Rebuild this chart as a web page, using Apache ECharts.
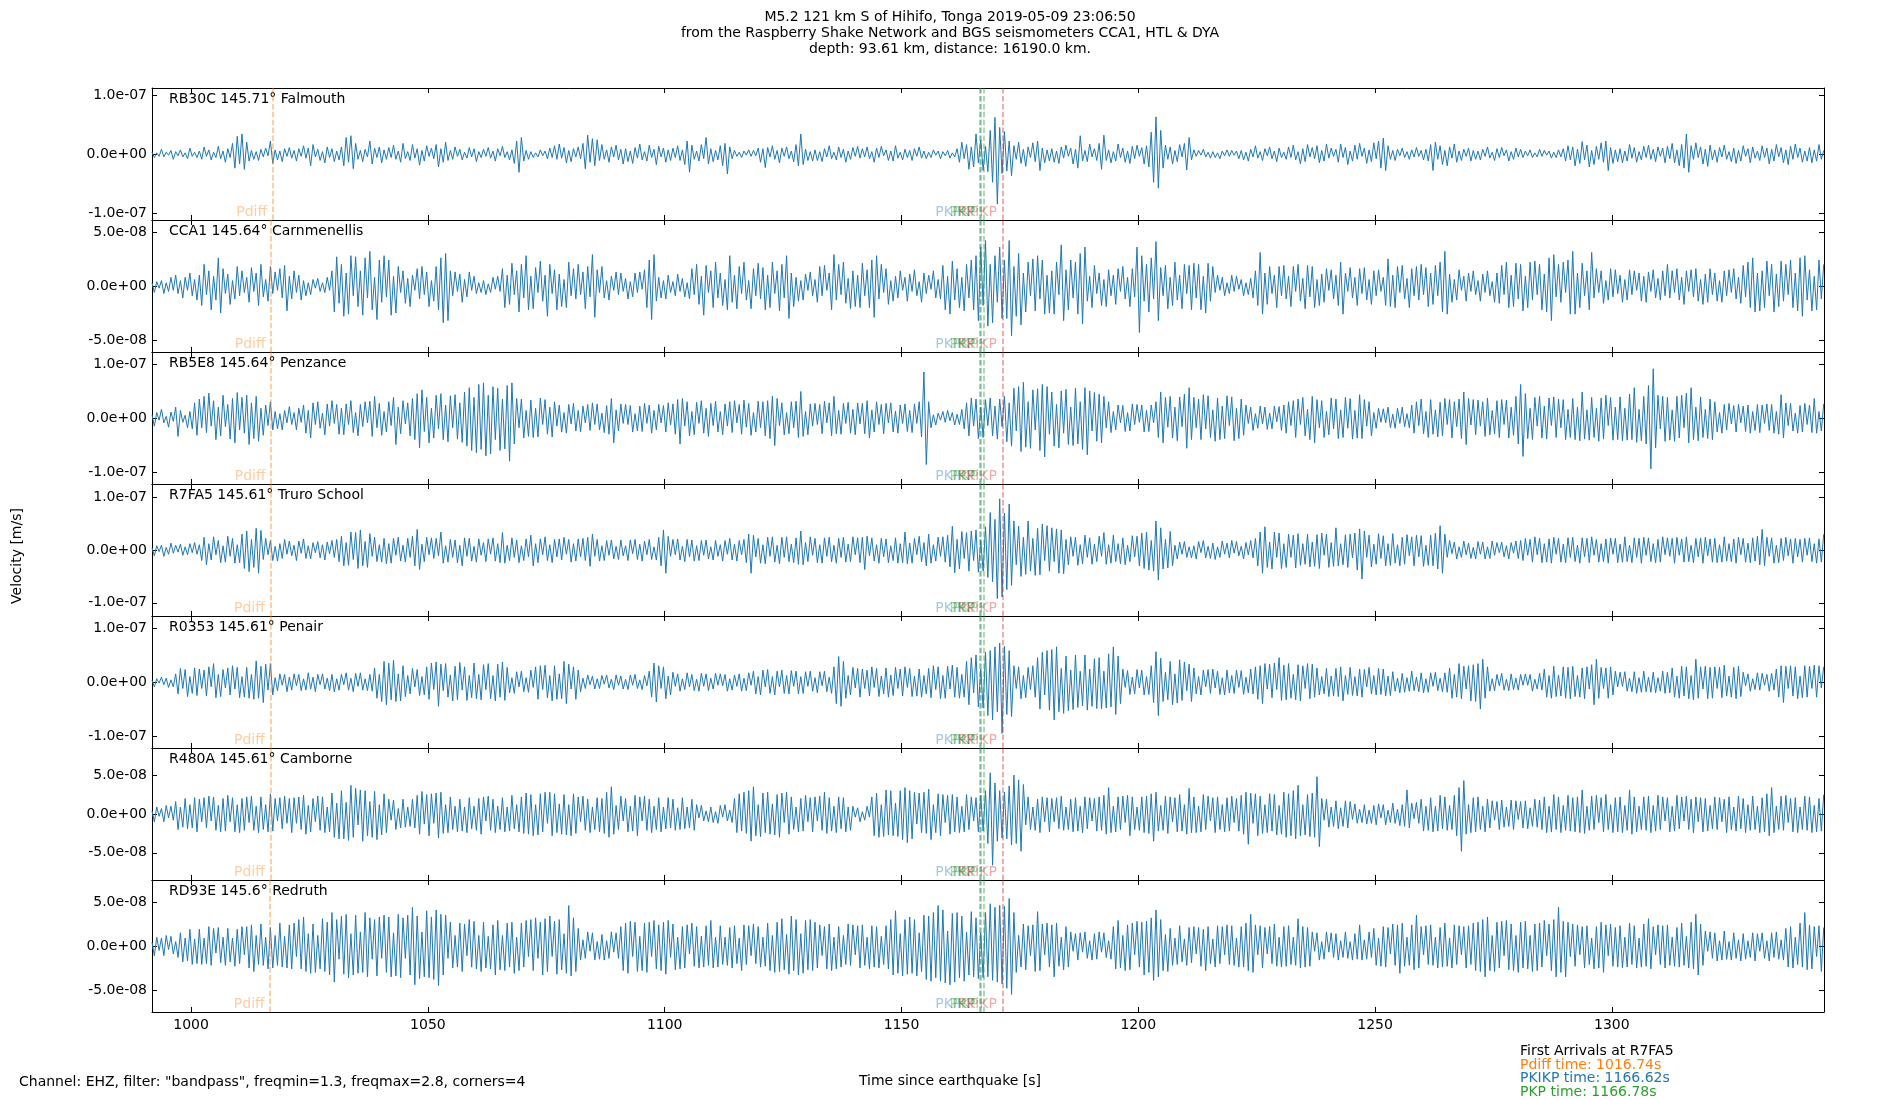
<!DOCTYPE html>
<html><head><meta charset="utf-8">
<script src="https://cdn.jsdelivr.net/npm/echarts@6/dist/echarts.min.js"></script>
<style>html,body{margin:0;padding:0;background:#fff}#c{width:1900px;height:1100px}</style>
</head><body><div id="c"></div>
<script>
// ---------------- data ----------------
const UNIT = 1e-9;            // trace values are in nm/s
const T0 = 991.74, DT = 0.5;  // first sample time, sample step (s); each row = 10 s
const X_MIN = 991.74, X_MAX = 1344.8;
const xTicks = [1000, 1050, 1100, 1150, 1200, 1250, 1300];

const stationCodes = ['RB30C', 'CCA1', 'RB5E8', 'R7FA5', 'R0353', 'R480A', 'RD93E'];
const stationDist  = ['145.71', '145.64', '145.64', '145.61', '145.61', '145.61', '145.6'];
const stationNames = ['Falmouth', 'Carnmenellis', 'Penzance', 'Truro School', 'Penair', 'Camborne', 'Redruth'];
const yLimits = [112, 61, 122, 125, 122, 85, 75];
const yTicks = [[-100, 0, 100], [-50, 0, 50], [-100, 0, 100], [-100, 0, 100], [-100, 0, 100], [-50, 0, 50], [-50, 0, 50]];

const phaseNames = ['Pdiff', 'PKIKP', 'PKP', 'PKP', 'PKiKP'];
const pdiffTimes = [1017.2, 1016.9, 1016.9, 1016.74, 1016.74, 1016.74, 1016.7];
const pkikpTimes = [1166.62, 1166.62, 1166.62, 1166.62, 1166.62, 1166.62, 1166.62];
const pkpTimes   = [1166.78, 1166.78, 1166.78, 1166.78, 1166.78, 1166.78, 1166.78];
const pkp2Times  = [1167.4, 1167.4, 1167.4, 1167.4, 1167.4, 1167.4, 1167.4];
const pkikp2Times = [1171.3, 1171.3, 1171.3, 1171.3, 1171.3, 1171.3, 1171.3];

const firstArrivalStation = 'R7FA5';
const firstArrivalPhases = ['Pdiff', 'PKIKP', 'PKP'];
const firstArrivalTimes = [1016.74, 1166.62, 1166.78];

const titleLines = [
  'M5.2 121 km S of Hihifo, Tonga 2019-05-09 23:06:50',
  'from the Raspberry Shake Network and BGS seismometers CCA1, HTL & DYA',
  'depth: 93.61 km, distance: 16190.0 km.'
];
const filterText = 'Channel: EHZ, filter: "bandpass", freqmin=1.3, freqmax=2.8, corners=4';
const xName = 'Time since earthquake [s]';
const yName = 'Velocity [m/s]';

const rb30c = [
[3,-6,2,-4,8,-5,3,-2,6,-9,4,-3,7,-5,2,-8,10,-4,3,-6],
[5,-9,12,-4,7,-10,3,-6,13,-8,5,-14,9,-6,18,-24,30,-17,34,-26],
[20,-12,6,-9,4,-11,8,-5,10,-3,22,-16,7,-10,5,-13,9,-4,11,-7],
[6,-12,9,-4,14,-7,10,-20,16,-5,8,-11,4,-15,12,-6,9,-13,5,-10],
[12,-20,28,-14,31,-25,18,-9,6,-13,8,-5,22,-17,10,-6,12,-15,7,-9],
[11,-6,15,-9,5,-14,18,-8,4,-11,16,-7,9,-19,6,-12,14,-4,10,-8],
[16,-22,9,-14,20,-11,6,-9,12,-4,8,-10,3,-7,11,-5,9,-13,4,-6],
[8,-4,11,-7,5,-12,9,-3,13,-6,4,-10,7,-16,22,-31,28,-12,6,-9],
[4,-6,2,-5,7,-3,5,-8,10,-6,14,-9,17,-7,11,-15,6,-13,9,-5],
[12,-8,18,-25,32,-14,26,-20,24,-11,16,-9,7,-14,12,-5,15,-10,8,-17],
[9,-13,5,-16,11,-7,17,-10,4,-12,15,-6,8,-18,13,-5,10,-14,7,-11],
[10,-6,14,-11,7,-18,22,-31,15,-9,5,-12,16,-8,28,-17,9,-13,6,-10],
[14,-20,18,-34,12,-8,6,-4,3,-6,5,-2,7,-4,6,-3,10,-14,9,-23],
[11,-5,14,-9,6,-15,10,-4,12,-8,5,-13,16,-20,34,-18,8,-11,4,-12],
[7,-11,4,-13,9,-5,14,-8,3,-10,12,-6,8,-14,5,-9,11,-4,13,-7],
[9,-5,12,-8,4,-14,10,-6,13,-3,7,-11,5,-12,14,-7,3,-10,8,-6],
[6,-11,9,-4,12,-7,5,-8,3,-6,7,-2,5,-8,4,-3,6,-7,2,-5],
[9,-14,20,-8,16,-26,12,-22,34,-15,24,-28,13,-30,40,-48,62,-85,45,-33],
[38,-29,22,-37,14,-9,20,-16,8,-21,12,-6,19,-13,22,-28,10,-15,7,-12],
[9,-14,5,-16,12,-7,15,-4,10,-17,8,-24,31,-12,6,-13,17,-5,9,-11],
[18,-26,32,-11,7,-15,4,-12,17,-6,10,-14,5,-16,13,-8,15,-4,11,-17],
[14,-22,37,-48,63,-58,40,-24,15,-9,12,-17,6,-13,16,-5,18,-27,28,-10],
[7,-4,6,-2,8,-5,3,-7,4,-6,2,-8,5,-3,7,-4,6,-2,5,-8],
[6,-10,3,-12,8,-5,14,-7,4,-11,9,-3,12,-8,5,-13,10,-6,3,-9],
[12,-6,15,-10,4,-17,9,-13,16,-5,11,-8,14,-15,6,-12,17,-7,10,-4],
[8,-14,17,-6,11,-18,5,-12,15,-9,18,-4,10,-16,7,-13,19,-8,22,-24],
[27,-28,14,-9,6,-11,8,-3,10,-6,4,-9,7,-5,11,-4,6,-10,8,-12],
[16,-28,20,-9,14,-18,6,-20,12,-7,17,-14,5,-11,8,-4,10,-12,6,-9],
[5,-10,8,-4,12,-7,3,-11,9,-6,11,-3,7,-12,4,-9,10,-5,8,-6],
[5,-3,7,-6,2,-5,8,-4,6,-2,5,-7,3,-6,7,-5,9,-12,14,-10],
[12,-20,8,-16,21,-10,15,-22,6,-18,13,-9,19,-14,22,-28,11,-16,7,-13],
[9,-15,5,-12,16,-7,11,-14,4,-10,13,-6,15,-9,8,-13,12,-4,10,-15],
[13,-8,18,-15,7,-20,16,-24,34,-31,14,-9,19,-6,12,-17,8,-21,15,-10],
[7,-14,11,-5,15,-9,4,-13,10,-16,6,-12,14,-4,9,-15,12,-7,5,-11],
[14,-6,10,-17,8,-12,16,-5,11,-15,7,-18,13,-9,17,-6,10,-14,5,-12],
[11,-15,7,-12,16,-9,6]
];

const cca1 = [
[3,-6,4,-2,5,-7,3,-5,8,-4,10,-7,5,-11,8,-4,12,-9,6,-13],
[10,-18,20,-8,14,-22,9,-13,26,-25,16,-7,11,-17,5,-12,18,-9,14,-6],
[8,-15,17,-5,12,-18,20,-10,6,-14,18,-7,13,-4,16,-11,19,-23,9,-12],
[14,-6,10,-13,5,-9,3,-8,6,-2,7,-5,3,-6,8,-4,14,-24,27,-16],
[20,-28,12,-26,28,-9,27,-19,14,-27,26,-11,32,-22,8,-31,24,-15,28,-10],
[24,-27,9,-25,18,-6,14,-16,7,-19,10,-4,16,-12,18,-8,13,-19,5,-14],
[18,-22,26,-34,30,-32,14,-9,13,-5,11,-15,6,-10,13,-4,9,-7,3,-6],
[5,-8,2,-6,8,-3,9,-5,16,-20,10,-17,21,-8,14,-24,20,-11,28,-22],
[9,-21,17,-6,23,-14,10,-28,20,-7,15,-22,11,-19,6,-20,22,-9,16,-12],
[20,-8,13,-21,18,-10,29,-29,15,-6,18,-11,5,-13,9,-4,13,-8,12,-5],
[7,-12,4,-10,12,-6,13,-3,15,-20,24,-31,29,-14,8,-11,5,-12,10,-6],
[4,-9,11,-5,7,-10,3,-12,16,-8,20,-17,9,-27,19,-6,14,-20,22,-11],
[12,-18,6,-22,28,-15,10,-21,18,-7,22,-13,5,-21,16,-9,21,-12,17,-22],
[10,-20,22,-7,14,-23,20,-11,28,-30,12,-19,8,-14,5,-13,11,-4,13,-9],
[6,-15,18,-9,19,-4,12,-22,29,-13,20,-8,22,-16,7,-21,14,-19,10,-20],
[21,-9,15,-20,24,-29,28,-12,20,-6,16,-17,5,-14,9,-11,14,-4,8,-14],
[11,-5,15,-9,4,-15,12,-7,10,-3,14,-11,6,-12,19,-22,9,-26,23,-13],
[16,-20,8,-23,20,-11,24,-22,28,-32,36,-18,42,-37,20,-34,28,-15,36,-30],
[24,-30,42,-46,18,-28,30,-36,12,-24,22,-9,25,-23,28,-12,24,-26,10,-25],
[14,-26,22,-8,38,-32,15,-22,24,-11,22,-26,30,-35,36,-14,9,-20,19,-7],
[12,-18,6,-19,15,-9,10,-17,16,-5,18,-12,8,-19,16,-10,36,-43,28,-14],
[20,-24,26,-12,41,-32,17,-9,19,-21,8,-18,22,-13,10,-21,20,-7,19,-22],
[21,-11,20,-22,9,-25,21,-14,18,-6,10,-4,8,-9,3,-7,10,-5,9,-3],
[6,-9,3,-8,7,-11,14,-18,31,-26,12,-17,18,-7,10,-20,18,-9,19,-12],
[9,-19,18,-5,20,-14,7,-21,19,-10,18,-20,6,-18,11,-15,16,-4,15,-12],
[10,-18,22,-26,12,-5,17,-11,8,-18,16,-7,17,-13,6,-17,14,-9,15,-5],
[8,-18,25,-19,10,-20,18,-6,19,-12,7,-20,16,-9,18,-13,20,-8,17,-19],
[12,-17,19,-9,22,-24,32,-26,11,-15,6,-13,15,-4,9,-14,12,-5,14,-8],
[5,-14,11,-6,14,-9,4,-15,12,-16,19,-8,22,-20,10,-19,21,-12,20,-23],
[9,-20,22,-13,23,-8,20,-22,11,-24,26,-32,29,-10,20,-15,22,-6,24,-26],
[32,-26,12,-20,21,-9,14,-22,31,-11,16,-6,14,-16,5,-13,16,-10,15,-7],
[10,-15,6,-13,15,-8,14,-4,12,-14,9,-15,13,-5,15,-11,7,-13,14,-9],
[20,-11,14,-6,16,-13,8,-17,14,-5,15,-10,16,-14,6,-17,11,-15,16,-8],
[12,-14,5,-15,14,-9,15,-6,16,-12,8,-16,19,-10,22,-20,26,-24,12,-23],
[14,-20,23,-9,20,-24,11,-19,23,-14,20,-8,24,-20,12,-23,26,-28,28,-13],
[15,-23,9,-22,24,-12,20]
];

const rb5e8 = [
[6,-15,10,-4,16,-9,3,-17,11,-6,20,-34,14,-8,5,-18,12,-20,28,-32],
[35,-18,40,-27,46,-15,32,-40,20,-33,42,-16,25,-39,36,-46,47,-22,38,-28],
[42,-49,28,-38,40,-43,18,-32,24,-14,30,-22,12,-20,8,-22,14,-9,21,-12],
[10,-22,18,-8,24,-28,14,-37,28,-12,30,-19,9,-31,26,-15,32,-10,25,-30],
[18,-31,26,-12,32,-27,10,-33,25,-16,30,-9,31,-34,40,-18,27,-32,12,-26],
[30,-14,38,-49,20,-29,32,-11,28,-33,36,-40,45,-55,52,-25,38,-46,18,-37],
[42,-20,45,-40,24,-44,41,-18,43,-39,28,-45,48,-52,56,-60,38,-64,62,-58],
[65,-70,42,-66,58,-40,55,-60,35,-57,60,-80,65,-48,36,-18,35,-37,14,-34],
[33,-36,18,-35,37,-12,34,-30,20,-35,30,-15,24,-26,10,-28,25,-11,27,-24],
[14,-26,22,-9,25,-23,28,-12,26,-22,9,-27,23,-30,36,-46,15,-24,26,-10],
[25,-12,23,-26,8,-24,22,-25,27,-10,24,-28,14,-22,25,-9,23,-26,28,-13],
[26,-30,34,-48,36,-15,30,-33,12,-31,29,-10,32,-28,18,-34,27,-14,31,-26],
[12,-31,26,-15,30,-27,32,-9,25,-30,33,-17,27,-32,10,-26,31,-18,30,-33],
[32,-38,40,-51,36,-14,28,-31,10,-29,30,-18,31,-36,49,-34,12,-31,26,-15],
[27,-12,25,-29,31,-9,28,-33,40,-29,14,-30,27,-10,29,-28,16,-31,28,-11],
[27,-29,32,-37,15,-26,30,-12,25,-29,27,-9,28,-26,13,-28,24,-10,26,-25],
[14,-27,26,-10,30,-35,85,-86,30,-18,6,-13,9,-4,12,-8,14,-5,10,-13],
[7,-12,16,-20,28,-33,37,-15,35,-38,20,-36,34,-14,37,-33,22,-39,35,-16],
[40,-44,28,-52,55,-24,58,-62,66,-54,30,-56,52,-22,54,-60,62,-72,58,-30],
[48,-52,25,-55,50,-28,53,-49,20,-51,55,-48,30,-58,56,-68,50,-24,47,-43],
[44,-46,40,-18,30,-27,12,-22,24,-9,23,-25,10,-24,26,-12,25,-8,24,-26],
[14,-25,24,-9,30,-36,48,-46,38,-17,40,-37,20,-42,39,-16,44,-56,56,-40],
[38,-18,35,-40,43,-20,41,-36,15,-43,37,-40,22,-38,41,-14,39,-42,18,-38],
[35,-32,24,-10,20,-23,8,-19,22,-11,20,-21,9,-20,22,-7,21,-23,24,-28],
[30,-14,32,-36,35,-12,38,-33,16,-40,40,-46,34,-18,32,-36,12,-31,37,-20],
[35,-38,15,-36,38,-19,36,-39,14,-37,43,-38,34,-15,30,-33,10,-19,18,-8],
[17,-9,20,-18,7,-19,18,-10,20,-16,8,-18,24,-28,30,-14,35,-29,12,-36],
[34,-30,15,-35,29,-33,36,-12,34,-37,30,-16,35,-38,48,-49,36,-13,34,-31],
[33,-15,30,-34,37,-31,14,-29,32,-36,34,-12,33,-37,20,-32,40,-48,62,-71],
[45,-38,18,-40,38,-15,40,-37,22,-39,37,-14,39,-36,35,-18,34,-40,16,-36],
[36,-40,20,-42,48,-39,15,-41,38,-36,18,-43,37,-39,42,-14,38,-41,20,-40],
[39,-42,18,-41,44,-40,56,-45,16,-42,40,-48,60,-94,91,-55,42,-20,40,-43],
[38,-41,15,-43,40,-37,42,-18,46,-46,56,-40,20,-42,39,-36,16,-38,35,-40],
[30,-26,10,-28,25,-22,27,-11,23,-26,25,-9,22,-25,24,-28,12,-23,25,-27],
[24,-10,26,-23,25,-28,12,-30,43,-37,28,-14,27,-24,9,-28,23,-26,27,-12],
[24,-27,36,-28,12,-24,26]
];

const r7fa5 = [
[4,-11,8,-3,9,-12,5,-8,13,-6,9,-4,11,-10,6,-9,12,-5,14,-8],
[10,-20,24,-28,12,-19,25,-9,18,-24,8,-23,26,-12,22,-25,10,-24,30,-35],
[36,-41,20,-33,41,-44,37,-18,22,-9,18,-20,7,-21,12,-16,20,-8,17,-11],
[9,-20,17,-6,21,-16,8,-17,14,-5,16,-15,10,-19,15,-7,18,-14,20,-22],
[26,-30,14,-29,34,-18,33,-35,38,-30,16,-33,31,-12,24,-22,10,-23,22,-26],
[12,-25,22,-10,24,-21,9,-23,22,-14,26,-30,39,-37,11,-22,24,-9,23,-16],
[22,-11,34,-25,8,-23,20,-14,19,-24,9,-30,23,-12,22,-21,7,-23,21,-10],
[14,-22,21,-8,23,-21,12,-24,33,-25,9,-20,23,-14,19,-24,8,-20,21,-13],
[28,-30,12,-24,21,-9,25,-20,10,-24,20,-13,21,-19,24,-8,20,-23,12,-21],
[21,-13,22,-20,24,-31,30,-12,20,-21,8,-20,18,-10,19,-17,7,-18,19,-11],
[8,-20,19,-7,20,-18,11,-21,17,-9,20,-18,6,-19,24,-30,38,-44,26,-12],
[20,-9,21,-19,7,-22,20,-13,19,-21,8,-20,18,-10,19,-17,6,-19,18,-12],
[10,-21,18,-8,22,-19,11,-21,18,-9,20,-24,30,-44,28,-13,22,-25,10,-26],
[24,-12,25,-23,9,-26,24,-14,25,-22,11,-24,23,-27,36,-28,14,-22,25,-10],
[22,-24,10,-25,23,-12,24,-22,9,-25,22,-14,24,-23,11,-22,25,-9,23,-24],
[24,-37,26,-11,23,-21,10,-25,22,-13,21,-24,8,-20,23,-25,12,-24,34,-26],
[13,-25,22,-9,26,-22,14,-30,30,-25,10,-21,24,-12,25,-23,28,-32,45,-43],
[20,-36,35,-16,33,-40,36,-20,38,-42,18,-40,44,-52,71,-60,58,-92,97,-89],
[70,-75,87,-67,55,-28,45,-50,24,-46,55,-40,22,-48,41,-47,49,-20,46,-40],
[42,-22,40,-44,38,-45,20,-28,25,-12,24,-29,10,-26,28,-14,23,-27,11,-22],
[26,-12,33,-27,10,-25,28,-22,12,-26,23,-28,9,-22,27,-13,26,-30,32,-35],
[34,-38,18,-40,55,-57,42,-36,20,-34,35,-30,9,-17,15,-8,16,-14,6,-15],
[8,-17,16,-5,18,-15,7,-16,13,-18,6,-14,17,-8,13,-15,18,-6,16,-11],
[7,-17,14,-9,18,-15,22,-30,34,-44,44,-33,15,-36,34,-14,32,-35,12,-33],
[30,-14,28,-34,31,-29,12,-27,30,-32,15,-31,29,-35,32,-10,30,-33,14,-31],
[42,-30,12,-28,29,-33,30,-15,32,-38,40,-55,36,-14,28,-32,11,-27,31,-16],
[27,-30,12,-29,31,-25,10,-30,24,-27,29,-11,25,-30,28,-13,27,-31,9,-29],
[28,-30,32,-36,46,-44,30,-14,18,-7,15,-17,6,-14,17,-9,13,-16,5,-17],
[16,-8,15,-17,6,-16,17,-10,14,-5,15,-13,8,-17,14,-6,17,-16,18,-20],
[22,-10,20,-23,25,-9,22,-24,12,-23,21,-25,24,-8,22,-23,11,-24,23,-14],
[24,-22,9,-25,23,-13,22,-24,25,-10,20,-23,12,-22,21,-25,23,-8,22,-24],
[11,-23,25,-22,9,-24,23,-14,22,-25,24,-10,23,-22,12,-24,20,-23,25,-9],
[23,-12,22,-25,24,-10,21,-23,25,-22,9,-24,22,-13,23,-25,24,-11,21,-23],
[22,-24,10,-23,25,-21,12,-22,21,-25,24,-9,22,-23,13,-24,23,-21,26,-28],
[39,-30,24,-12,23,-25,9,-24,22,-20,24,-11,21,-25,22,-13,20,-23,22,-10],
[23,-22,12,-25,21,-23,30]
];

const r0353 = [
[3,-9,6,-2,9,-5,7,-10,4,-9,15,-22,25,-12,23,-27,10,-21,26,-25],
[24,-12,22,-26,28,-9,34,-29,14,-27,23,-11,26,-24,30,-13,27,-29,10,-28],
[27,-30,14,-32,39,-30,29,-38,33,-15,34,-24,8,-16,15,-6,14,-18,9,-15],
[15,-7,14,-16,6,-15,17,-13,9,-18,14,-5,15,-13,7,-16,14,-18,6,-15],
[14,-5,17,-15,7,-18,16,-8,17,-15,6,-16,14,-17,26,-30,14,-36,38,-42],
[35,-33,40,-36,15,-35,30,-27,12,-22,25,-9,23,-25,10,-24,28,-32,35,-14],
[37,-45,33,-16,34,-28,13,-35,29,-33,36,-15,28,-34,12,-29,35,-31,14,-33],
[32,-14,34,-31,12,-35,33,-28,37,-34,27,-20,8,-21,19,-9,20,-18,8,-19],
[22,-10,28,-32,30,-14,31,-29,12,-35,30,-32,15,-31,38,-40,33,-13,28,-32],
[22,-18,7,-12,13,-5,11,-13,6,-12,12,-4,13,-11,5,-14,13,-6,11,-13],
[5,-14,13,-6,14,-12,4,-14,12,-7,20,-28,35,-37,30,-12,28,-31,11,-24],
[18,-8,15,-17,6,-14,17,-9,14,-16,5,-17,16,-8,15,-16,7,-13,16,-6],
[15,-7,14,-17,6,-15,13,-8,15,-17,7,-16,17,-6,20,-22,10,-24,22,-9],
[23,-21,10,-24,20,-9,22,-21,12,-22,21,-8,20,-22,10,-21,19,-8,20,-17],
[8,-20,19,-7,20,-18,9,-21,28,-40,47,-45,38,-30,12,-24,27,-11,25,-28],
[24,-12,22,-26,28,-10,25,-27,11,-22,26,-28,13,-25,27,-12,24,-26,28,-10],
[25,-27,11,-26,24,-28,12,-22,25,-29,30,-14,28,-31,12,-30,29,-13,31,-28],
[27,-30,14,-28,38,-42,45,-20,50,-46,24,-48,55,-62,58,-70,65,-55,72,-95],
[66,-60,58,-64,30,-12,28,-31,12,-29,27,-14,30,-28,45,-50,55,-24,58,-52],
[60,-70,65,-55,25,-58,48,-53,22,-51,50,-47,20,-44,50,-52,24,-45,43,-49],
[45,-50,20,-48,52,-46,65,-60,48,-40,24,-10,21,-23,9,-22,23,-11,22,-24],
[10,-23,30,-38,56,-62,44,-36,18,-33,38,-42,15,-39,41,-34,37,-16,33,-36],
[26,-22,10,-24,22,-9,23,-21,24,-11,20,-23,8,-24,22,-20,12,-21,22,-10],
[21,-23,9,-20,24,-22,28,-32,30,-40,34,-13,33,-29,35,-14,45,-34,31,-33],
[34,-30,14,-33,32,-35,30,-12,34,-31,33,-28,26,-24,10,-22,25,-27,11,-26],
[25,-27,28,-35,12,-23,27,-25,10,-26,24,-28,23,-9,27,-22,12,-24,25,-23],
[24,-26,11,-25,19,-17,7,-20,16,-19,8,-17,20,-16,9,-18,17,-20,6,-19],
[17,-8,18,-16,7,-18,17,-19,26,-30,14,-28,34,-31,29,-13,30,-35,32,-36],
[34,-50,42,-30,28,-17,6,-16,14,-7,16,-15,5,-16,15,-14,7,-15,14,-6],
[15,-6,14,-17,5,-13,16,-15,24,-28,12,-30,29,-27,13,-26,28,-30,27,-31],
[29,-27,12,-28,26,-31,28,-13,32,-42,42,-30,27,-12,26,-30,28,-24,20,-9],
[18,-8,19,-17,7,-18,19,-21,8,-19,20,-18,9,-19,18,-20,8,-17,20,-21],
[18,-20,26,-28,11,-30,29,-26,28,-31,12,-33,42,-30,28,-13,29,-31,27,-30],
[28,-12,27,-29,31,-26,11,-28,27,-31,29,-27,18,-7,15,-17,6,-14,17,-15],
[16,-6,14,-17,16,-15,24,-28,30,-38,29,-12,30,-26,28,-31,11,-29,30,-28],
[29,-12,31,-28,30,-11,28]
];

const r480a = [
[4,-10,9,-3,7,-10,11,-5,10,-8,16,-20,9,-17,20,-19,12,-18,21,-23],
[19,-10,21,-18,23,-9,22,-21,11,-23,20,-22,24,-10,21,-23,12,-24,20,-21],
[22,-11,23,-21,10,-24,22,-20,12,-23,26,-22,20,-9,21,-19,23,-12,20,-24],
[21,-12,22,-20,24,-26,11,-23,20,-10,23,-21,22,-24,9,-23,27,-30,14,-32],
[30,-32,15,-34,37,-30,33,-14,31,-35,30,-28,16,-30,29,-33,12,-27,26,-24],
[19,-8,18,-20,7,-18,19,-17,9,-16,19,-18,24,-26,29,-13,25,-28,26,-12],
[27,-31,28,-25,12,-24,22,-20,10,-23,19,-22,9,-24,21,-19,10,-21,20,-26],
[22,-9,23,-21,19,-24,10,-20,21,-23,9,-22,24,-19,12,-23,22,-25,27,-26],
[25,-28,12,-27,26,-23,28,-12,28,-28,26,-24,13,-26,25,-27,12,-28,26,-25],
[22,-10,23,-21,19,-24,9,-20,21,-23,20,-25,28,-30,35,-26,11,-20,23,-9],
[20,-23,10,-22,24,-28,22,-9,23,-21,19,-24,10,-20,21,-23,9,-19,21,-18],
[19,-21,8,-20,21,-19,9,-18,19,-21,12,-5,11,-9,4,-10,9,-11,3,-12],
[11,-4,12,-9,5,-11,20,-24,26,-22,28,-25,30,-35,35,-28,12,-29,27,-24],
[28,-26,13,-27,25,-30,27,-11,28,-26,22,-20,9,-23,20,-22,24,-10,21,-23],
[22,-9,23,-21,28,-25,21,-22,10,-24,22,-19,21,-23,9,-21,10,-4,8,-10],
[3,-8,10,-4,22,-28,27,-30,12,-29,31,-27,30,-28,14,-29,30,-33,34,-37],
[30,-32,28,-13,27,-24,28,-25,32,-33,12,-24,26,-28,25,-11,24,-26,25,-23],
[22,-24,10,-23,25,-20,22,-9,21,-23,24,-22,30,-38,53,-66,40,-35,30,-31],
[28,-32,36,-40,50,-38,44,-48,38,-14,22,-20,9,-21,19,-24,22,-10,21,-23],
[20,-10,21,-19,23,-21,9,-20,19,-23,21,-22,10,-24,22,-19,21,-9,20,-22],
[22,-21,24,-26,34,-24,10,-23,22,-20,23,-11,24,-28,22,-20,9,-21,22,-24],
[23,-25,26,-35,28,-22,11,-21,23,-25,22,-10,21,-23,25,-22,12,-26,33,-24],
[22,-24,10,-23,25,-20,23,-9,21,-24,22,-20,12,-23,21,-22,23,-11,20,-22],
[24,-26,28,-39,27,-12,26,-28,23,-25,12,-24,26,-22,25,-27,11,-26,28,-30],
[26,-28,30,-32,37,-28,12,-27,25,-29,27,-30,48,-42,20,-8,19,-17,9,-16],
[17,-19,8,-16,17,-18,16,-7,13,-12,6,-11,12,-13,5,-12,11,-14,13,-5],
[12,-14,5,-11,14,-12,6,-15,12,-16,31,-18,14,-6,15,-12,19,-22,10,-21],
[21,-23,10,-22,24,-19,22,-21,11,-20,24,-28,34,-48,43,-26,12,-24,21,-23],
[22,-20,10,-23,19,-18,17,-8,16,-20,18,-17,9,-16,18,-20,17,-7,16,-18],
[17,-19,8,-16,19,-17,18,-20,22,-24,10,-23,25,-20,22,-24,11,-21,24,-22],
[21,-23,22,-24,31,-25,10,-21,23,-20,24,-11,21,-23,25,-20,12,-24,21,-23],
[22,-24,11,-21,31,-26,22,-23,10,-20,22,-21,23,-24,11,-22,24,-20,22,-9],
[21,-23,10,-22,24,-19,22,-9,23,-20,19,-24,22,-10,21,-23,20,-22,11,-19],
[22,-20,21,-10,19,-24,22,-20,9,-22,23,-19,20,-24,12,-21,23,-20,10,-24],
[21,-23,26,-28,34,-24,10,-20,23,-21,24,-11,20,-23,21,-24,9,-20,23,-21],
[22,-24,11,-23,20,-22,25]
];

const rd93e = [
[4,-11,10,-5,9,-11,12,-4,11,-9,5,-13,15,-18,9,-17,19,-21,8,-20],
[19,-21,9,-20,22,-22,20,-8,21,-19,10,-22,20,-18,9,-23,19,-20,22,-10],
[22,-25,24,-29,12,-21,25,-22,10,-26,21,-25,12,-22,26,-24,11,-25,24,-26],
[26,-12,30,-26,33,-29,14,-31,25,-30,12,-26,31,-29,27,-33,38,-41,30,-15],
[34,-32,36,-36,14,-33,35,-31,16,-30,38,-35,32,-15,30,-34,33,-14,35,-30],
[33,-35,15,-34,36,-36,32,-14,35,-33,44,-44,34,-37,16,-35,40,-36,33,-38],
[41,-45,36,-33,35,-14,27,-25,12,-24,26,-29,25,-11,30,-24,28,-26,12,-29],
[27,-25,11,-26,24,-33,29,-27,12,-28,26,-24,27,-31,10,-28,26,-24,29,-12],
[30,-28,32,-14,27,-33,31,-29,34,-12,28,-32,30,-27,14,-31,46,-34,32,-29],
[20,-16,7,-14,16,-6,15,-16,5,-15,13,-16,6,-14,16,-7,15,-14,22,-28],
[26,-31,28,-12,27,-29,11,-28,26,-30,27,-12,29,-26,24,-28,27,-32,29,-13],
[25,-27,10,-26,22,-25,24,-9,26,-23,22,-25,11,-24,23,-22,29,-25,10,-24],
[23,-21,10,-22,21,-25,23,-20,9,-28,24,-21,23,-11,25,-20,22,-24,10,-23],
[26,-28,12,-30,27,-29,31,-27,13,-32,34,-28,30,-33,14,-31,29,-27,30,-28],
[27,-25,24,-11,22,-26,25,-28,10,-26,22,-24,12,-21,25,-22,24,-10,23,-25],
[24,-22,10,-26,23,-24,22,-25,11,-21,23,-26,30,-33,40,-31,14,-34,30,-32],
[33,-31,30,-34,15,-29,35,-38,34,-40,38,-36,46,-40,41,-42,17,-44,37,-41],
[38,-36,34,-40,16,-33,39,-35,32,-37,15,-36,38,-35,48,-39,44,-41,46,-43],
[45,-48,54,-55,38,-30,12,-24,25,-27,23,-11,24,-29,39,-28,25,-10,26,-24],
[24,-35,26,-23,10,-27,22,-24,16,-6,14,-16,15,-7,16,-14,6,-16,14,-15],
[16,-7,15,-13,6,-15,22,-26,29,-25,12,-28,24,-27,26,-10,28,-24,27,-33],
[28,-30,32,-39,41,-35,30,-28,13,-29,20,-22,9,-21,23,-18,8,-22,21,-19],
[22,-9,21,-23,19,-28,22,-20,8,-24,23,-20,22,-10,24,-21,23,-22,9,-24],
[22,-24,26,-28,36,-30,24,-10,23,-25,21,-9,22,-20,25,-23,10,-24,22,-23],
[23,-21,10,-22,31,-25,22,-24,21,-23,16,-6,15,-16,5,-15,16,-7,15,-13],
[14,-16,6,-13,16,-14,5,-16,14,-15,24,-16,7,-15,16,-13,20,-22,9,-23],
[22,-24,21,-9,25,-22,24,-31,26,-23,10,-22,24,-27,35,-25,22,-10,23,-21],
[24,-22,10,-25,21,-24,26,-23,9,-25,24,-21,23,-10,22,-25,23,-21,26,-28],
[27,-29,30,-35,33,-28,12,-29,27,-25,28,-11,29,-27,25,-28,12,-30,27,-25],
[28,-26,12,-29,25,-28,26,-24,29,-11,25,-28,30,-35,44,-30,28,-35,27,-12],
[25,-23,24,-10,22,-25,23,-21,9,-26,22,-25,27,-30,24,-11,25,-23,21,-24],
[23,-25,10,-24,26,-21,23,-25,9,-24,25,-23,31,-26,22,-10,24,-21,23,-25],
[24,-22,10,-23,21,-24,26,-22,11,-25,27,-26,36,-33,25,-22,17,-6,16,-14],
[15,-17,6,-16,17,-15,5,-16,15,-14,7,-17,14,-15,6,-13,15,-17,14,-6],
[15,-14,6,-17,15,-13,16,-15,7,-16,20,-24,22,-25,10,-21,26,-24,38,-27],
[24,-26,22,-12,23,-29,21]
];

const traces = [rb30c, cca1, rb5e8, r7fa5, r0353, r480a, rd93e];

// ---------------- style / layout ----------------
const FONT = '"DejaVu Sans", sans-serif';
const TRACE_COLOR = '#1f77b4';
const phaseColors = ['rgba(255,127,14,0.5)', 'rgba(31,119,180,0.5)', 'rgba(44,160,44,0.5)', 'rgba(44,160,44,0.5)', 'rgba(214,39,40,0.5)'];
const arrivalTextColors = ['#ff7f0e', '#1f77b4', '#2ca02c'];
const phaseTimes = [pdiffTimes, pkikpTimes, pkpTimes, pkp2Times, pkikp2Times];
const L = 152, R = 76, TOP = 88, H = 132;

function sci(v) {
  if (v === 0) return '0.0e+00';
  return (v * UNIT).toExponential(1).replace(/e([+-])(\d)$/, (m, s, d) => 'e' + s + '0' + d);
}

const grids = [], xAxes = [], yAxes = [], series = [], texts = [];
const axisLine = { show: true, onZero: false, lineStyle: { color: '#000', width: 1 } };
for (let i = 0; i < traces.length; i++) {
  grids.push({ left: L, right: R, top: TOP + H * i, height: H });
  ['bottom', 'top'].forEach((pos) => {
    xAxes.push({
      type: 'value', gridIndex: i, position: pos, min: X_MIN, max: X_MAX,
      axisLine: axisLine,
      axisTick: { show: true, inside: true, length: 5, customValues: xTicks, lineStyle: { color: '#000', width: 1 } },
      axisLabel: { show: pos === 'bottom' && i === traces.length - 1, customValues: xTicks, margin: 6,
        fontSize: 14, fontFamily: FONT, color: '#000', formatter: (v) => String(v) },
      splitLine: { show: false }
    });
  });
  ['left', 'right'].forEach((pos) => {
    yAxes.push({
      type: 'value', gridIndex: i, position: pos, min: -yLimits[i], max: yLimits[i],
      axisLine: axisLine,
      axisTick: { show: true, inside: true, length: 5, customValues: yTicks[i], lineStyle: { color: '#000', width: 1 } },
      axisLabel: { show: pos === 'left', customValues: yTicks[i], margin: 5, fontSize: 14, fontFamily: FONT,
        color: '#000', formatter: sci },
      splitLine: { show: false }
    });
  });
  const pts = [];
  traces[i].forEach((row, b) => row.forEach((v, j) => pts.push([T0 + b * 10 + j * DT, v])));
  series.push({
    type: 'line', xAxisIndex: 2 * i, yAxisIndex: 2 * i, data: pts,
    symbol: 'none', showSymbol: false, animation: false,
    lineStyle: { color: TRACE_COLOR, width: 1 },
    markLine: {
      silent: true, symbol: ['none', 'none'], animation: false, label: { show: false },
      data: phaseNames.map((p, k) => ({ xAxis: phaseTimes[k][i],
        lineStyle: { color: phaseColors[k], type: [5.5, 2.4], width: 1.5 } }))
    }
  });
  series.push({
    type: 'scatter', xAxisIndex: 2 * i, yAxisIndex: 2 * i, symbolSize: 1, silent: true, animation: false, clip: false,
    itemStyle: { color: 'transparent' },
    data: phaseNames.map((p, k) => ({ value: [phaseTimes[k][i], -yLimits[i]], name: p,
      label: { color: phaseColors[k] } })),
    label: { show: true, formatter: (prm) => prm.name, position: [-5, 0], align: 'right', verticalAlign: 'bottom',
      fontSize: 14, fontFamily: FONT }
  });
  texts.push({ type: 'text', x: 169, y: TOP + H * i + 11, silent: true,
    style: { text: stationCodes[i] + ' ' + stationDist[i] + '\u00b0 ' + stationNames[i],
      fill: '#000', font: '14px ' + FONT, align: 'left', verticalAlign: 'middle' } });
}

const titleY = [17, 33.3, 49.6];
titleLines.forEach((t, k) => texts.push({ type: 'text', x: 950, y: titleY[k], silent: true,
  style: { text: t, fill: '#000', font: '14px ' + FONT, align: 'center', verticalAlign: 'middle' } }));
texts.push({ type: 'text', x: 17, y: 556, rotation: Math.PI / 2, silent: true,
  style: { text: yName, fill: '#000', font: '14px ' + FONT, align: 'center', verticalAlign: 'middle' } });
texts.push({ type: 'text', x: 950, y: 1081, silent: true,
  style: { text: xName, fill: '#000', font: '14px ' + FONT, align: 'center', verticalAlign: 'middle' } });
texts.push({ type: 'text', x: 19, y: 1082, silent: true,
  style: { text: filterText, fill: '#000', font: '14px ' + FONT, align: 'left', verticalAlign: 'middle' } });
texts.push({ type: 'text', x: 1520, y: 1051, silent: true,
  style: { text: 'First Arrivals at ' + firstArrivalStation, fill: '#000', font: '14px ' + FONT, align: 'left', verticalAlign: 'middle' } });
firstArrivalPhases.forEach((p, k) => texts.push({ type: 'text', x: 1520, y: 1065 + 13.5 * k, silent: true,
  style: { text: p + ' time: ' + firstArrivalTimes[k].toFixed(2) + 's', fill: arrivalTextColors[k],
    font: '14px ' + FONT, align: 'left', verticalAlign: 'middle' } }));

const chart = echarts.init(document.getElementById('c'), null, { renderer: 'canvas' });
chart.setOption({
  animation: false,
  backgroundColor: '#fff',
  grid: grids, xAxis: xAxes, yAxis: yAxes, series: series,
  graphic: { elements: texts }
});
</script></body></html>
